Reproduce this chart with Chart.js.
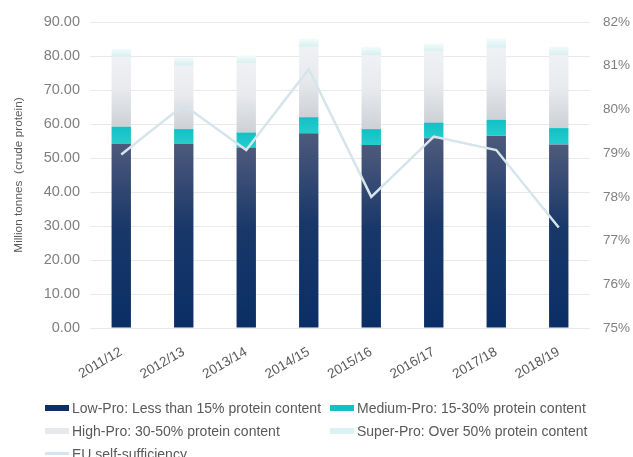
<!DOCTYPE html>
<html>
<head>
<meta charset="utf-8">
<script src="https://cdn.jsdelivr.net/npm/chart.js@4/dist/chart.umd.min.js"></script>
<style>
  html, body { margin: 0; padding: 0; background: #fff; overflow: hidden; }
  #wrap { position: relative; width: 633px; height: 457px; overflow: hidden; font-family: "Liberation Sans", Arial, sans-serif; }
  #myChart { display: block; }
  #legend { position: absolute; left: 45px; top: 396px; display: grid; grid-template-columns: 285px auto; grid-auto-rows: 23px; color: #595959; font-size: 14px; }
  .item { display: flex; align-items: center; white-space: nowrap; }
  .box { width: 24px; height: 6px; margin-right: 3px; }
</style>
</head>
<body>
<div id="wrap">
  <canvas id="myChart" width="633" height="457"></canvas>
  <div id="legend"></div>
</div>
<script>
// values
const seasons = ["2011/12", "2012/13", "2013/14", "2014/15", "2015/16", "2016/17", "2017/18", "2018/19"];
const lowPro = [54.3, 54.3, 53.1, 57.3, 53.8, 55.8, 56.5, 54.0];
const mediumPro = [4.9, 4.2, 4.4, 4.7, 4.7, 4.6, 4.7, 4.8];
const highPro = [20.6, 18.6, 20.3, 20.7, 21.8, 20.9, 21.2, 21.5];
const superPro = [2.3, 2.5, 2.4, 2.4, 2.4, 2.4, 2.8, 2.5];
const selfSufficiency = [78.97, 80.1, 79.07, 80.92, 78.0, 79.38, 79.07, 77.3];

const leftTicks = { min: 0, max: 90, step: 10 };
const rightTicks = { min: 75, max: 82, step: 1 };

const barSeries = [lowPro, mediumPro, highPro, superPro];
const names = [
  "Low-Pro: Less than 15% protein content",
  "Medium-Pro: 15-30% protein content",
  "High-Pro: 30-50% protein content",
  "Super-Pro: Over 50% protein content",
  "EU self-sufficiency"
];

// gradient stops for each stacked segment (top -> bottom)
const stops = [
  [[0, "#4e5a7c"], [0.45, "#193869"], [1, "#0a2e66"]],
  [[0, "#12c0c4"], [1, "#25cdce"]],
  [[0, "#eff1f5"], [0.45, "#e8eaee"], [1, "#cdd0d5"]],
  [[0, "#f4fbfb"], [1, "#d6eff0"]]
];
const legendColors = ["#0d2e66", "#0fc2c6", "#e6e8ec", "#dcf1f3", "#d5e5eb"];

function segmentFill(k) {
  return function (context) {
    const chart = context.chart;
    if (!chart.chartArea || context.type !== "data") return legendColors[k];
    const i = context.dataIndex;
    let start = 0;
    for (let j = 0; j < k; j++) start += barSeries[j][i];
    const end = start + barSeries[k][i];
    const yScale = chart.scales.y;
    const yTop = yScale.getPixelForValue(end);
    const yBottom = yScale.getPixelForValue(start);
    const g = chart.ctx.createLinearGradient(0, yTop, 0, yBottom);
    stops[k].forEach((s) => g.addColorStop(s[0], s[1]));
    return g;
  };
}

const datasets = barSeries.map((vals, k) => ({
  type: "bar",
  label: names[k],
  data: vals,
  yAxisID: "y",
  order: 1,
  backgroundColor: segmentFill(k),
  borderWidth: 0,
  barPercentage: 0.62,
  categoryPercentage: 0.5
}));

datasets.push({
  type: "line",
  label: names[4],
  data: selfSufficiency,
  yAxisID: "y1",
  order: 0,
  borderColor: "#d5e5eb",
  borderWidth: 2.5,
  pointRadius: 0,
  tension: 0,
  fill: false
});

const barCanvas = document.getElementById("myChart");
const myChart = new Chart(barCanvas, {
  type: "bar",
  data: {
    labels: seasons,
    datasets: datasets
  },
  options: {
    responsive: false,
    animation: false,
    layout: {
      padding: { left: 8, right: 0, top: 22, bottom: 0 }
    },
    plugins: {
      legend: { display: false },
      tooltip: { enabled: false }
    },
    scales: {
      x: {
        stacked: true,
        grid: { display: false, drawTicks: false },
        border: { display: false },
        ticks: {
          color: "#595959",
          font: { family: "Liberation Sans", size: 13.5 },
          minRotation: 30,
          maxRotation: 30,
          padding: 16
        },
        afterFit: (scale) => { scale.height = 129; }
      },
      y: {
        stacked: true,
        position: "left",
        min: leftTicks.min,
        max: leftTicks.max,
        border: { display: false },
        grid: { color: "#e9e9e9", drawTicks: false },
        ticks: {
          stepSize: leftTicks.step,
          color: "#7f7f7f",
          padding: 10,
          font: { family: "Liberation Sans", size: 14.5 },
          callback: (v) => v.toFixed(2)
        },
        title: {
          display: true,
          text: "Million tonnes  (crude protein)",
          color: "#595959",
          font: { family: "Liberation Sans", size: 11.8 },
          padding: { top: 4, bottom: 4 }
        },
        afterFit: (scale) => { scale.width = 82; }
      },
      y1: {
        position: "right",
        min: rightTicks.min,
        max: rightTicks.max,
        border: { display: false },
        grid: { display: false, drawTicks: false },
        ticks: {
          stepSize: rightTicks.step,
          color: "#7f7f7f",
          padding: 13,
          font: { family: "Liberation Sans", size: 13.5 },
          callback: (v) => v + "%"
        },
        afterFit: (scale) => { scale.width = 43; }
      }
    }
  }
});

// html legend laid out in two columns like the original
const legendDiv = document.getElementById("legend");
names.forEach((name, k) => {
  const item = document.createElement("div");
  item.className = "item";
  const box = document.createElement("span");
  box.className = "box";
  box.style.background = legendColors[k];
  if (k === 4) box.style.height = "3px";
  item.appendChild(box);
  item.appendChild(document.createTextNode(name));
  legendDiv.appendChild(item);
});
</script>
</body>
</html>
